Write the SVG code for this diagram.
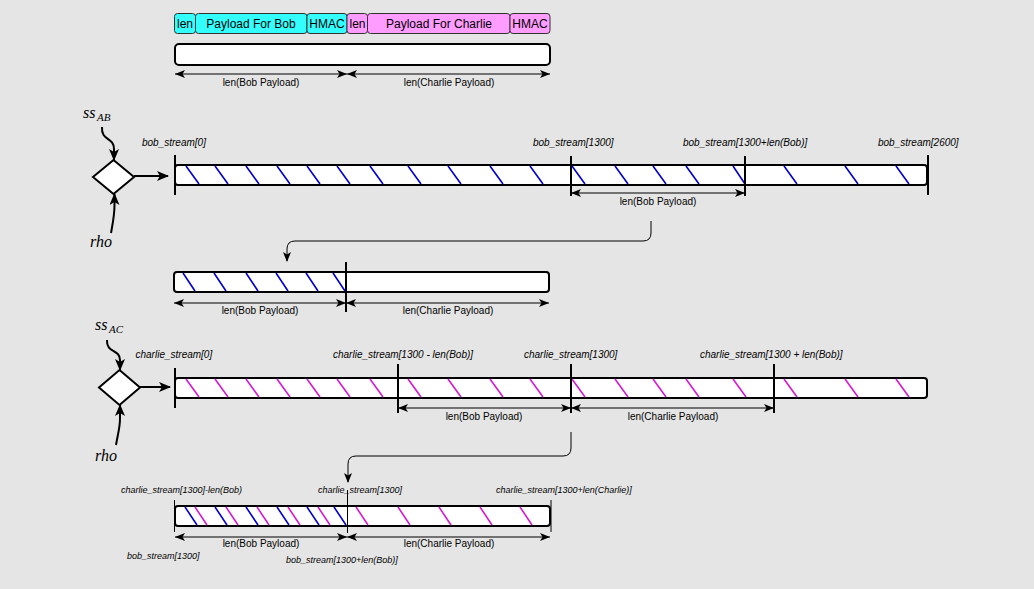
<svg xmlns="http://www.w3.org/2000/svg" width="1034" height="589" viewBox="0 0 1034 589">
<defs>
<style>
.bg{fill:#e5e5e5}
.bar{fill:#fff;stroke:#000;stroke-width:2}
.tick{stroke:#000;stroke-width:2;fill:none}
.thin{stroke:#000;stroke-width:1;fill:none}
.dim{stroke:#000;stroke-width:1.2;fill:none;marker-start:url(#ah);marker-end:url(#ah)}
.hb{stroke:#0000cc;stroke-width:1.6;fill:none}
.hm{stroke:#d41ad4;stroke-width:1.6;fill:none}
.cy{fill:#33ffff;stroke:#333;stroke-width:1}
.pk{fill:#ff9cff;stroke:#333;stroke-width:1}
.bt{font-family:"Liberation Sans",Arial,sans-serif;font-size:12px;text-anchor:middle;fill:#000}
.lb{font-family:"Liberation Sans",Arial,sans-serif;font-size:10px;text-anchor:middle;fill:#000}
.it{font-family:"Liberation Sans",Arial,sans-serif;font-size:10px;font-style:italic;fill:#000}
.it9{font-family:"Liberation Sans",Arial,sans-serif;font-size:9px;font-style:italic;fill:#000}
.mt{font-family:"Liberation Serif","Times New Roman",serif;font-style:italic;fill:#000}
.dia{fill:#fff;stroke:#000;stroke-width:2}
.flow{stroke:#000;stroke-width:2;fill:none;marker-end:url(#ah2)}
.conn{stroke:#000;stroke-width:1;fill:none;marker-end:url(#ah3)}
</style>
<marker id="ah" viewBox="0 0 10 8" refX="10" refY="4" markerWidth="10" markerHeight="8" markerUnits="userSpaceOnUse" orient="auto-start-reverse"><path d="M0,0 L10,4 L0,8 L2.5,4 z" fill="#000"/></marker>
<marker id="ah2" viewBox="0 0 12 10" refX="11" refY="5" markerWidth="12" markerHeight="10" markerUnits="userSpaceOnUse" orient="auto"><path d="M0,0 L12,5 L0,10 L3,5 z" fill="#000"/></marker>
<marker id="ah3" viewBox="0 0 10 8" refX="9" refY="4" markerWidth="10" markerHeight="8" markerUnits="userSpaceOnUse" orient="auto"><path d="M0,0 L10,4 L0,8 L2.5,4 z" fill="#000"/></marker>
</defs>
<rect class="bg" x="0" y="0" width="1034" height="589"/>

<g id="packet-fields">
<rect class="cy" x="174.5" y="13.5" width="21" height="20" rx="3"/>
<text class="bt" x="185" y="28">len</text>
<rect class="cy" x="195.5" y="13.5" width="111.5" height="20" rx="3"/>
<text class="bt" x="251" y="28">Payload For Bob</text>
<rect class="cy" x="307" y="13.5" width="40" height="20" rx="3"/>
<text class="bt" x="327" y="28">HMAC</text>
<rect class="pk" x="347" y="13.5" width="20.5" height="20" rx="3"/>
<text class="bt" x="357.5" y="28">len</text>
<rect class="pk" x="367.5" y="13.5" width="142.5" height="20" rx="3"/>
<text class="bt" x="439" y="28">Payload For Charlie</text>
<rect class="pk" x="510" y="13.5" width="40" height="20" rx="3"/>
<text class="bt" x="530" y="28">HMAC</text>
</g>

<g id="packet-bar">
<rect class="bar" x="175" y="44" width="375" height="21" rx="4"/>
<line class="dim" x1="175" y1="74" x2="347" y2="74"/>
<line class="dim" x1="347" y1="74" x2="550" y2="74"/>
<text class="lb" x="261" y="86">len(Bob Payload)</text>
<text class="lb" x="449" y="86">len(Charlie Payload)</text>
</g>

<g id="bob-prg">
<text class="mt" x="83" y="118" font-size="16">ss</text>
<text class="mt" x="97" y="121" font-size="11">AB</text>
<path class="flow" d="M102,127 C101,141 114,137 114,149 L114,160"/>
<polygon class="dia" points="113.5,160 134,177 113.5,194 93,177"/>
<path class="flow" d="M111,233 C113,222 114.5,215 114.5,205 L114.5,194"/>
<text class="mt" x="90" y="247" font-size="16">rho</text>
<line class="flow" x1="134" y1="176" x2="168" y2="176"/>
</g>

<g id="bob-stream">
<rect class="bar" x="175" y="165" width="752" height="20" rx="3"/>
<path class="hb" d="M186,166l13,18M215,166l13,18M246,166l13,18M277,166l13,18M307,166l13,18M337,166l13,18M370,166l13,18M408,166l13,18M448,166l13,18M490,166l13,18M530,166l13,18M572,166l13,18M615,166l13,18M653,166l13,18M686,166l13,18M733,166l12,18M784,166l13,18M845,166l13,18M896,166l13,18"/>
<line class="tick" x1="175" y1="155" x2="175" y2="195"/>
<line class="tick" x1="571" y1="156" x2="571" y2="196"/>
<line class="tick" x1="745" y1="156" x2="745" y2="196"/>
<line class="tick" x1="928" y1="155" x2="928" y2="195"/>
<text class="it" x="142" y="146">bob_stream[0]</text>
<text class="it" x="533" y="146">bob_stream[1300]</text>
<text class="it" x="683" y="146">bob_stream[1300+len(Bob)]</text>
<text class="it" x="878" y="146">bob_stream[2600]</text>
<line class="dim" x1="571" y1="193" x2="745" y2="193"/>
<text class="lb" x="658" y="205">len(Bob Payload)</text>
</g>

<g id="bob-xor">
<rect class="bar" x="174" y="272" width="375" height="20" rx="3"/>
<path class="hb" d="M183,273l12,18M214,273l12,18M246,273l12,18M276,273l12,18M306,273l12,18M333,273l12,18"/>
<line class="tick" x1="346" y1="262" x2="346" y2="312"/>
<line class="dim" x1="174" y1="303" x2="346" y2="303"/>
<line class="dim" x1="346" y1="303" x2="549" y2="303"/>
<text class="lb" x="260" y="314">len(Bob Payload)</text>
<text class="lb" x="448" y="314">len(Charlie Payload)</text>
</g>

<g id="charlie-prg">
<text class="mt" x="95" y="330" font-size="16">ss</text>
<text class="mt" x="109" y="333" font-size="11">AC</text>
<path class="flow" d="M107,340 C106,353 120,349 120,360 L120,370"/>
<polygon class="dia" points="119.5,370 140,387.5 119.5,405 99,387.5"/>
<path class="flow" d="M116,445 C118,433 120,428 120,418 L120,405"/>
<text class="mt" x="95" y="461" font-size="16">rho</text>
<line class="flow" x1="140" y1="387" x2="170" y2="387"/>
</g>

<g id="charlie-stream">
<rect class="bar" x="175" y="378" width="752" height="20" rx="3"/>
<path class="hm" d="M186,379l13,18M215,379l13,18M246,379l13,18M277,379l13,18M307,379l13,18M337,379l13,18M370,379l13,18M408,379l13,18M448,379l13,18M490,379l13,18M530,379l13,18M572,379l13,18M615,379l13,18M653,379l13,18M686,379l13,18M733,379l13,18M784,379l13,18M845,379l13,18M896,379l13,18"/>
<line class="tick" x1="175" y1="368" x2="175" y2="408"/>
<line class="tick" x1="398" y1="364" x2="398" y2="413"/>
<line class="tick" x1="571" y1="364" x2="571" y2="413"/>
<line class="tick" x1="774" y1="364" x2="774" y2="413"/>
<text class="it" x="135.5" y="358">charlie_stream[0]</text>
<text class="it" x="333" y="358">charlie_stream[1300 - len(Bob)]</text>
<text class="it" x="524" y="358">charlie_stream[1300]</text>
<text class="it" x="700" y="358">charlie_stream[1300 + len(Bob)]</text>
<line class="dim" x1="398" y1="408" x2="571" y2="408"/>
<line class="dim" x1="571" y1="408" x2="774" y2="408"/>
<text class="lb" x="484" y="420">len(Bob Payload)</text>
<text class="lb" x="673" y="420">len(Charlie Payload)</text>
</g>

<g id="charlie-xor">
<rect class="bar" x="175" y="506" width="375" height="20" rx="3"/>
<path class="hb" d="M185,507l12,18M215,507l12,18M246,507l12,18M277,507l12,18M307,507l12,18M334,507l12,18"/>
<path class="hm" d="M195,507l12,18M226,507l12,18M257,507l12,18M288,507l12,18M318,507l12,18M356,507l12,18M398,507l12,18M439,507l12,18M480,507l12,18M520,507l12,18"/>
<line class="thin" x1="174.5" y1="500" x2="174.5" y2="532"/>
<line class="thin" x1="551" y1="500" x2="551" y2="532"/>
<line class="thin" x1="347.5" y1="490" x2="347.5" y2="533"/>
<text class="it9" x="121" y="493">charlie_stream[1300]-len(Bob)</text>
<text class="it9" x="318" y="493">charlie_stream[1300]</text>
<text class="it9" x="496" y="493">charlie_stream[1300+len(Charlie)]</text>
<line class="dim" x1="175" y1="537" x2="347" y2="537"/>
<line class="dim" x1="347" y1="537" x2="550" y2="537"/>
<text class="lb" x="261" y="547">len(Bob Payload)</text>
<text class="lb" x="449" y="547">len(Charlie Payload)</text>
<text class="it9" x="127" y="559">bob_stream[1300]</text>
<text class="it9" x="286" y="563">bob_stream[1300+len(Bob)]</text>
</g>

<g id="connectors">
<path class="conn" d="M651,221 L651,233 Q651,241 643,241 L295,241 Q287,241 287,249 L287,261"/>
<path class="conn" d="M571,432 L571,448 Q571,456 563,456 L356,456 Q348,456 348,464 L348,482"/>
</g>
</svg>
